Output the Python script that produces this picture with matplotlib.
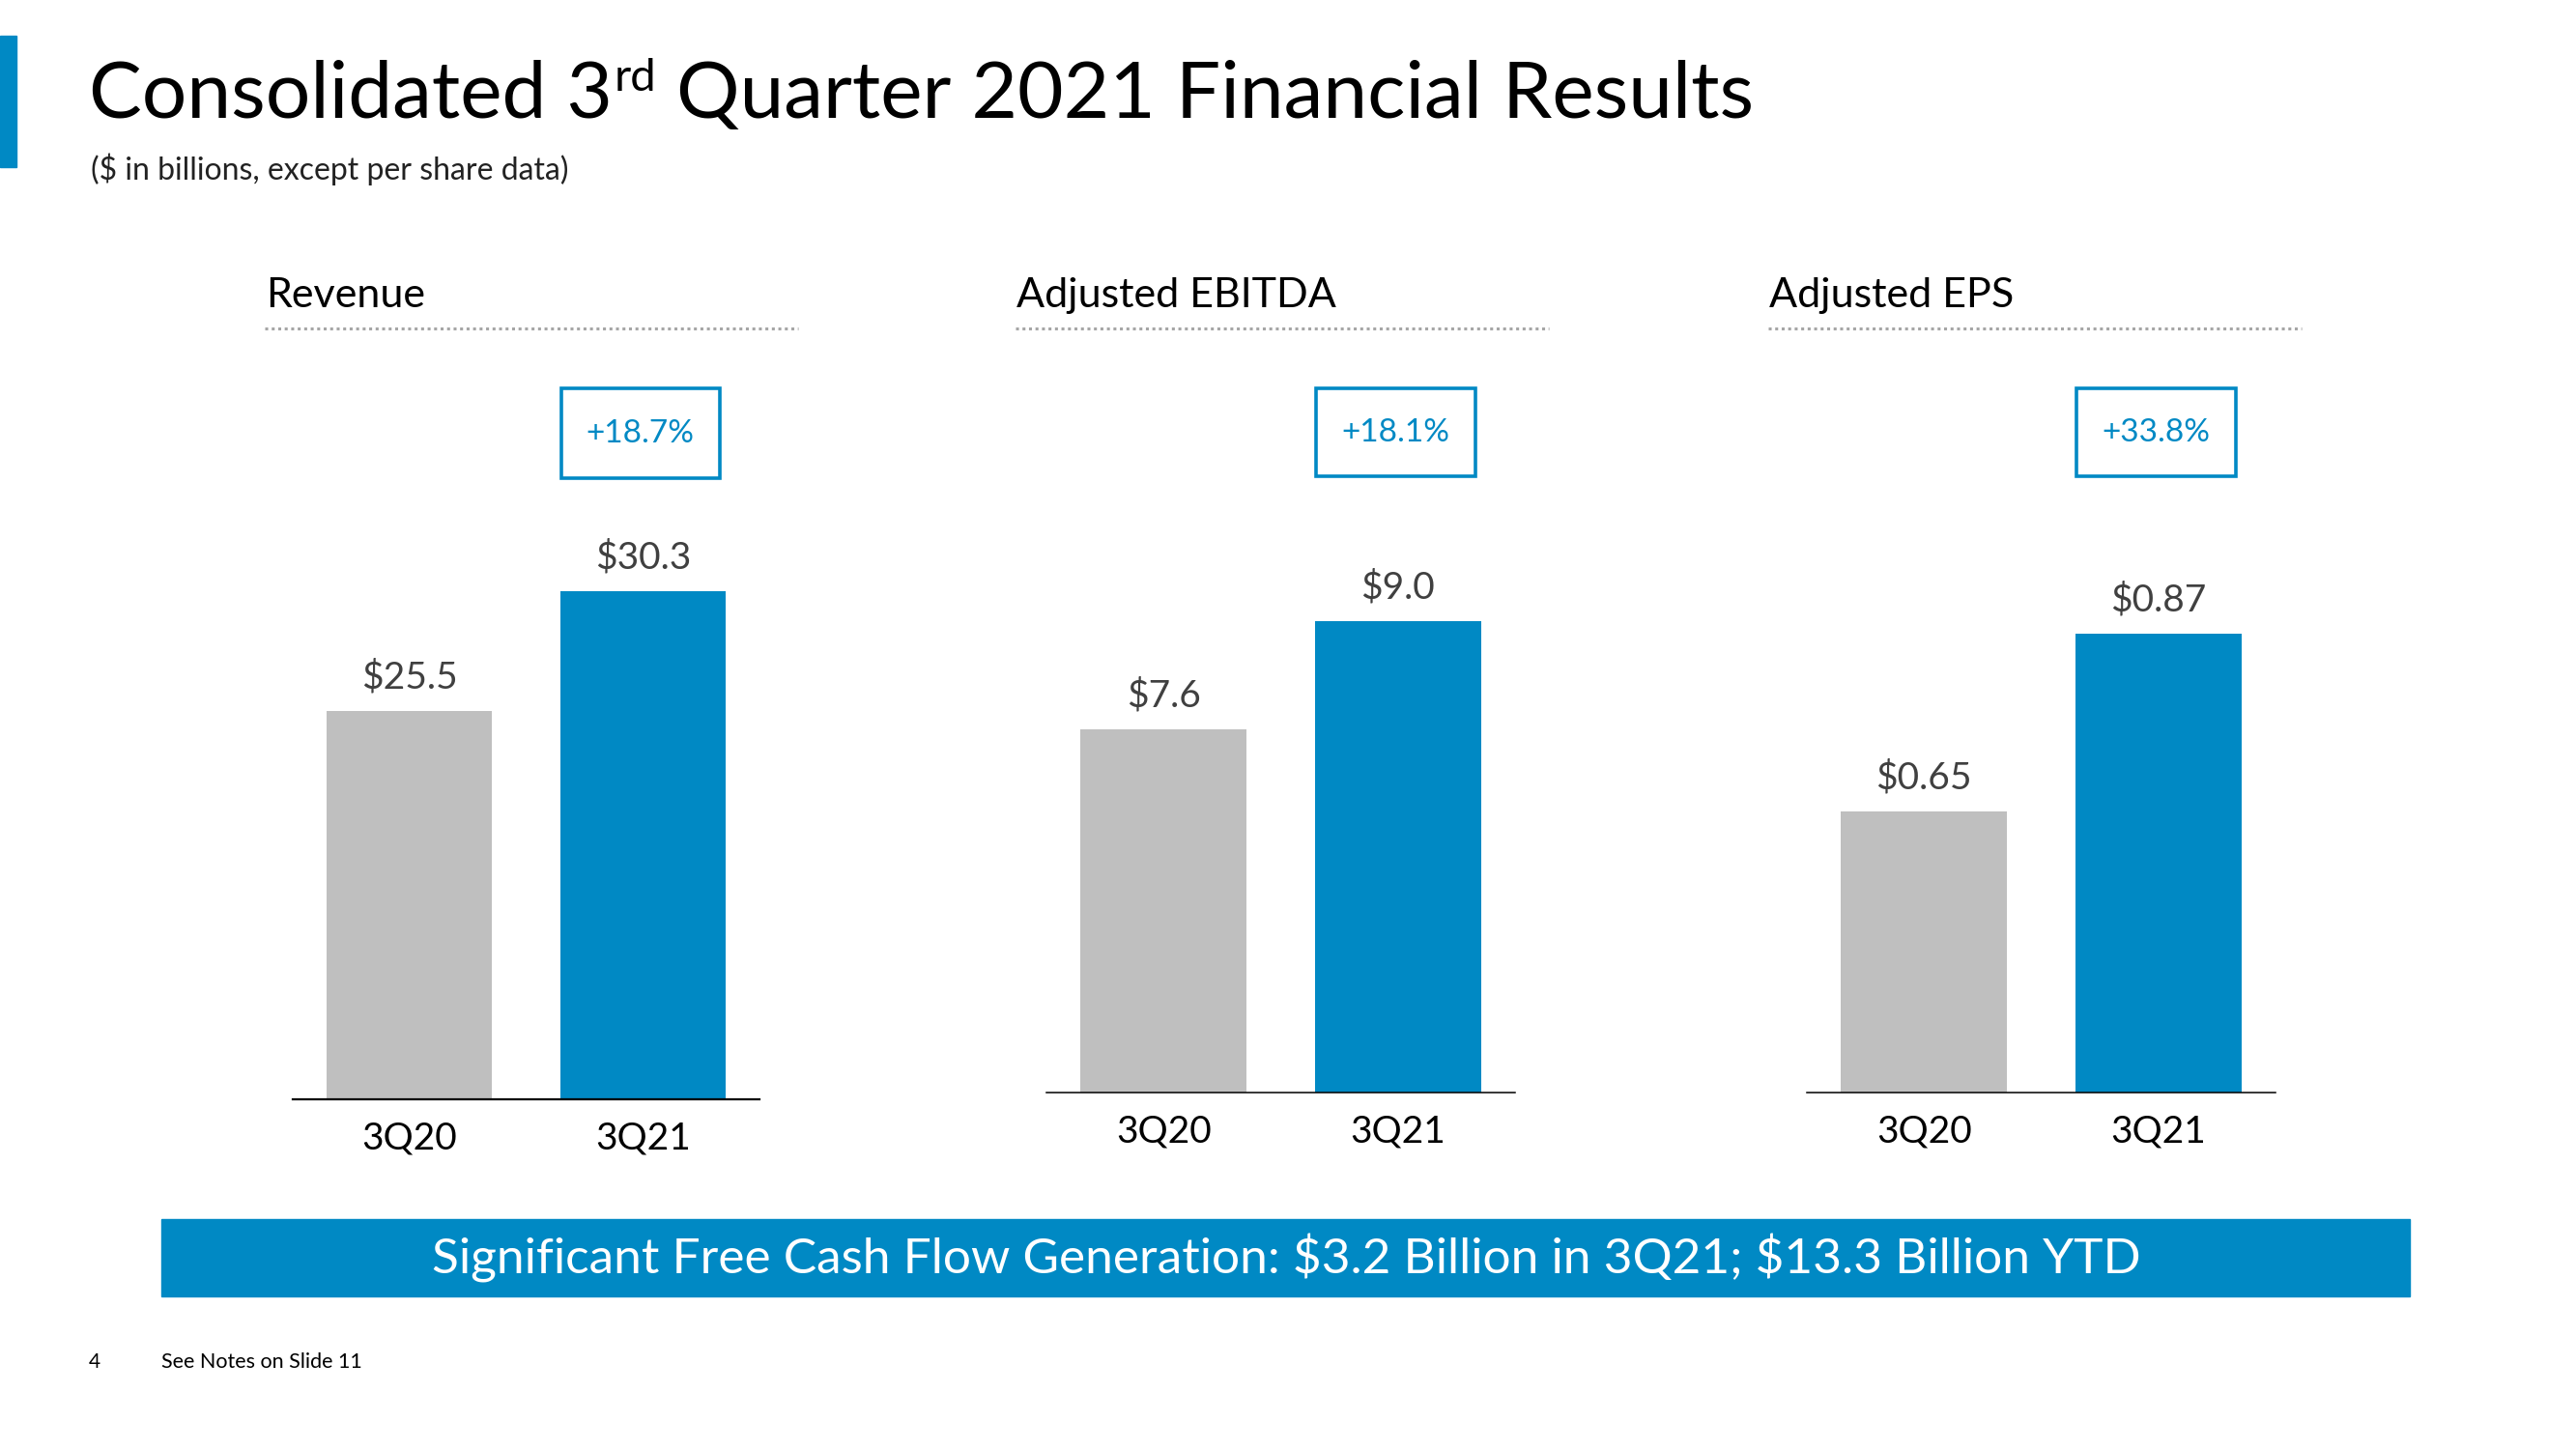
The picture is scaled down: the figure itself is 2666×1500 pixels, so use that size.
import matplotlib
matplotlib.use("Agg")
import matplotlib.pyplot as plt
from matplotlib.patches import Rectangle
from matplotlib.transforms import blended_transform_factory

plt.rcParams["text.parse_math"] = False

# ---- data ----
PANEL_TITLES = ["Revenue", "Adjusted EBITDA", "Adjusted EPS"]
PERIODS = ["3Q20", "3Q21"]
REVENUE = [25.5, 30.3]
EBITDA = [7.6, 9.0]
EPS = [0.65, 0.87]
VALUE_LABELS = [["$25.5", "$30.3"], ["$7.6", "$9.0"], ["$0.65", "$0.87"]]
GROWTH = ["+18.7%", "+18.1%", "+33.8%"]
TITLE_PARTS = ["Consolidated 3", "rd", " Quarter 2021 Financial Results"]
SUBTITLE = "($ in billions, except per share data)"
BANNER = "Significant Free Cash Flow Generation: $3.2 Billion in 3Q21; $13.3 Billion YTD"
PAGE_NO = "4"
FOOTNOTE = "See Notes on Slide 11"

# ---- layout (pixels on a 2666x1500 canvas) ----
W, H = 2666, 1500
BLUE = "#0089C4"
GREY = "#BFBFBF"
FONT = "Lato"

# axes: left, right, baseline y, top y ; value-axis floor/ceiling
PANEL_BOX = [(303, 786, 1138, 340), (1083, 1568, 1131, 340), (1870, 2355, 1131, 340)]
AXIS_RANGE = [(9.94, 40.84), (2.9, 12.79), (0.302, 1.248)]
RULE_X = [(274, 826), (1051, 1603), (1830, 2382)]
BASE_LW = [1.6, 1.1, 1.1]


def fx(px):
    return px / W


def fy(py):
    return 1 - py / H


fig = plt.figure(figsize=(W / 100, H / 100), dpi=100)
fig.patch.set_facecolor("white")

# left accent bar
fig.patches.append(Rectangle((fx(0), fy(173)), fx(17), 136 / H,
                             transform=fig.transFigure, color=BLUE, zorder=1))

# title with superscript
t1 = fig.text(fx(92), fy(122), TITLE_PARTS[0], fontsize=59, family=FONT,
              ha="left", va="baseline", color="black")
sup = fig.text(0, 0, TITLE_PARTS[1], fontsize=34, family=FONT, color="black")
fig.canvas.draw()
r = fig.canvas.get_renderer()
bb = t1.get_window_extent(r)
sup.set_position((bb.x1 / W + 0.0005, fy(94)))
sup.set_va("baseline")
bb2 = sup.get_window_extent(r)
fig.text(bb2.x1 / W, fy(122), TITLE_PARTS[2], fontsize=59, family=FONT,
         ha="left", va="baseline", color="black")

fig.text(fx(94), fy(175), SUBTITLE, fontsize=23, family=FONT, ha="left",
         va="center", color="#222222")

series = [REVENUE, EBITDA, EPS]
for i, vals in enumerate(series):
    left, right, base, top = PANEL_BOX[i]
    ax = fig.add_axes([fx(left), fy(base), (right - left) / W, (base - top) / H])
    ax.set_xlim(-0.5, 1.5)
    ax.set_ylim(*AXIS_RANGE[i])
    x = range(len(PERIODS))
    ax.bar(x, vals, width=0.71, color=[GREY, BLUE], zorder=2)
    for s in ["top", "left", "right"]:
        ax.spines[s].set_visible(False)
    ax.spines["bottom"].set_color("black")
    ax.spines["bottom"].set_linewidth(BASE_LW[i])
    ax.set_yticks([])
    ax.set_xticks([])
    ax.patch.set_alpha(0)

    for xi, v, lab in zip(x, vals, VALUE_LABELS[i]):
        ax.annotate(lab, xy=(xi, v), xytext=(0, 25), textcoords="offset points",
                    ha="center", va="center", fontsize=28, family=FONT,
                    color="#404040")
        ax.annotate(PERIODS[xi], xy=(xi, 0), xycoords=("data", "axes fraction"),
                    xytext=(0, -29), textcoords="offset points", ha="center",
                    va="center", fontsize=28, family=FONT, color="black")

    # growth box above the 3Q21 bar
    tr = blended_transform_factory(ax.transData, ax.transAxes)
    ax.add_patch(Rectangle((1 - 0.35, 0.806), 0.68, 0.116, transform=tr,
                           fill=False, edgecolor=BLUE, linewidth=2.6,
                           clip_on=False))
    ax.text(0.99, 0.864, GROWTH[i], transform=tr, ha="center", va="center",
            fontsize=24, family=FONT, color=BLUE)

    # panel heading and dotted rule
    rx0, rx1 = RULE_X[i]
    fig.text(fx(rx0 + 1), fy(318), PANEL_TITLES[i], fontsize=31, family=FONT,
             ha="left", va="baseline", color="black")
    fig.add_artist(plt.Line2D([fx(rx0), fx(rx1)], [fy(340), fy(340)],
                              transform=fig.transFigure, color="#A6A6A6",
                              linewidth=2.2, linestyle=(0, (1, 1.2))))

# banner
fig.patches.append(Rectangle((fx(167), fy(1342)), (2494 - 167) / W, 80 / H,
                             transform=fig.transFigure, color=BLUE, zorder=1))
fig.text(fx(1331), fy(1303), BANNER, fontsize=37, family=FONT, ha="center",
         va="center", color="white", zorder=2)

# footer
fig.text(fx(92), fy(1410), PAGE_NO, fontsize=15, family=FONT, ha="left",
         va="center", color="black")
fig.text(fx(167), fy(1410), FOOTNOTE, fontsize=15.5, family=FONT, ha="left",
         va="center", color="black")

fig.savefig("out.png", dpi=100)
